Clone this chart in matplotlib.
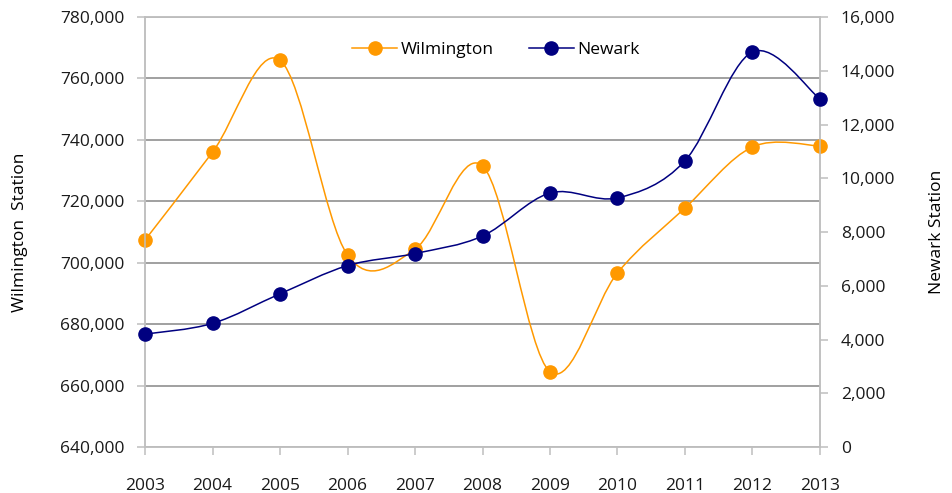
import numpy as np
import matplotlib.pyplot as plt
from matplotlib.path import Path
from matplotlib.patches import PathPatch
from matplotlib.lines import Line2D
from matplotlib.ticker import FuncFormatter

years = [2003, 2004, 2005, 2006, 2007, 2008, 2009, 2010, 2011, 2012, 2013]
wilmington = [707400, 736000, 765900, 702500, 704400, 731500, 664500, 696700, 717800, 737700, 738000]
newark = [4200, 4600, 5700, 6750, 7200, 7850, 9450, 9270, 10650, 14700, 12950]

orange = '#FF9900'
navy = '#000080'
grid_grey = '#868686'
axis_grey = '#BFBFBF'

plt.rcParams['font.family'] = ['Open Sans', 'DejaVu Sans']
plt.rcParams['font.size'] = 12.5


def smooth_path(x, y):
    # cardinal spline as cubic bezier segments, like office "smoothed line"
    x = np.asarray(x, float)
    y = np.asarray(y, float)
    px = np.concatenate([[x[0]], x, [x[-1]]])
    py = np.concatenate([[y[0]], y, [y[-1]]])
    verts = [(x[0], y[0])]
    codes = [Path.MOVETO]
    for i in range(1, len(x)):
        p0 = np.array([px[i - 1], py[i - 1]])
        p1 = np.array([px[i], py[i]])
        p2 = np.array([px[i + 1], py[i + 1]])
        p3 = np.array([px[i + 2], py[i + 2]])
        c1 = p1 + (p2 - p0) / 6
        c2 = p2 - (p3 - p1) / 6
        verts += [tuple(c1), tuple(c2), tuple(p2)]
        codes += [Path.CURVE4] * 3
    return Path(verts, codes)


fig = plt.figure(figsize=(9.53, 4.93), dpi=100)
ax = fig.add_axes([0.1522, 0.0933, 0.7082, 0.8722])
ax2 = ax.twinx()

ax.set_xlim(2003, 2013)
ax.set_ylim(640000, 780000)
ax2.set_ylim(0, 16000)

ax.set_yticks(np.arange(640000, 780001, 20000))
ax2.set_yticks(np.arange(0, 16001, 2000))
ax.set_xticks(years)

ax.yaxis.grid(True, color=grid_grey, linewidth=1.1)
ax.set_axisbelow(True)

comma = FuncFormatter(lambda v, p: f'{int(v):,}')
ax.yaxis.set_major_formatter(comma)
ax2.yaxis.set_major_formatter(comma)

for a in (ax, ax2):
    for s in a.spines.values():
        s.set_color(axis_grey)
        s.set_linewidth(1.1)
    a.tick_params(colors=axis_grey, labelcolor='#1a1a1a', length=6, width=1.1)
ax.tick_params(axis='y', pad=9)
ax.tick_params(axis='x', pad=16)
ax2.tick_params(axis='y', pad=9)

ax.add_patch(PathPatch(smooth_path(years, wilmington), facecolor='none',
                       edgecolor=orange, linewidth=1.1, zorder=3))
ax.plot(years, wilmington, 'o', color=orange, markersize=9.5, zorder=4,
        clip_on=False)

ax2.add_patch(PathPatch(smooth_path(years, newark), facecolor='none',
                        edgecolor=navy, linewidth=1.1, zorder=3))
ax2.plot(years, newark, 'o', color=navy, markersize=9.5, zorder=4,
         clip_on=False)

ax.set_ylabel('Wilmington  Station', labelpad=23)
ax2.set_ylabel('Newark Station', rotation=90, labelpad=24)

handles = [
    Line2D([], [], color=orange, marker='o', markersize=9.5, linewidth=1.1),
    Line2D([], [], color=navy, marker='o', markersize=9.5, linewidth=1.1),
]
ax2.legend(handles, ['Wilmington', 'Newark'], loc='center',
           bbox_to_anchor=(0.52, 0.923), ncol=2, frameon=False,
           handlelength=2.6, columnspacing=2.0, handletextpad=0.2)

fig.savefig('out.png', dpi=100)
